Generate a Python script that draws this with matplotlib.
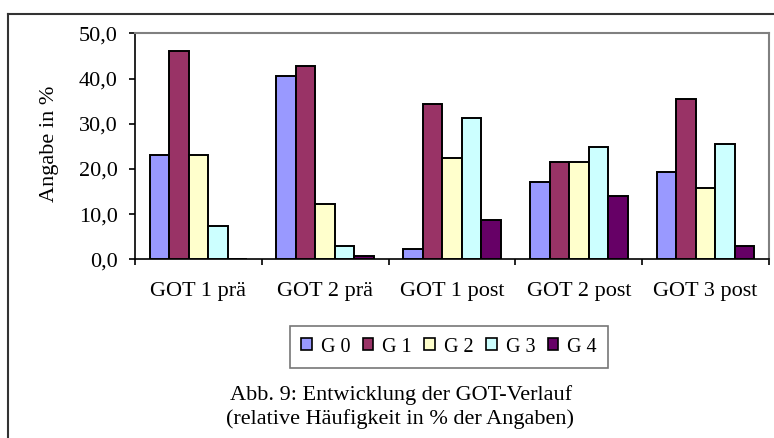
import matplotlib
matplotlib.use("Agg")
import matplotlib.pyplot as plt
import numpy as np
from matplotlib.lines import Line2D

categories = ["GOT 1 prä", "GOT 2 prä", "GOT 1 post", "GOT 2 post", "GOT 3 post"]
series_names = ["G 0", "G 1", "G 2", "G 3", "G 4"]
g0 = [23.0, 40.6, 2.2, 17.2, 19.4]
g1 = [46.0, 42.8, 34.4, 21.5, 35.4]
g2 = [23.0, 12.3, 22.5, 21.5, 15.8]
g3 = [7.4, 3.0, 31.3, 24.8, 25.6]
g4 = [0.0, 0.8, 8.8, 14.1, 3.0]
yticks = [0, 10, 20, 30, 40, 50]
ytick_labels = ["0,0", "10,0", "20,0", "30,0", "40,0", "50,0"]
colors = ["#9999FF", "#993366", "#FFFFCC", "#CCFFFF", "#660066"]

plt.rcParams['font.family'] = ['Liberation Serif', 'DejaVu Serif']

W, H = 774, 438
fig = plt.figure(figsize=(W / 100, H / 100), dpi=100)

def fx(px):
    return px / W

def fy(py):
    return 1 - py / H

# outer frame (extends past right/bottom edge)
fig.add_artist(Line2D([fx(8), fx(780)], [fy(14), fy(14)], color="#333333", lw=1.5, transform=fig.transFigure))
fig.add_artist(Line2D([fx(8), fx(8)], [fy(14), fy(445)], color="#333333", lw=1.5, transform=fig.transFigure))

left, right, top, bottom = 135, 769, 33.3, 259.3
ax = fig.add_axes([fx(left), fy(bottom), fx(right - left), (bottom - top) / H])

series = [g0, g1, g2, g3, g4]
n = len(series)
bw = 1.0 / 6.5
x = np.arange(len(categories))
for i, (vals, c, name) in enumerate(zip(series, colors, series_names)):
    offs = (i - (n - 1) / 2) * bw
    ax.bar(x + offs, vals, width=bw, color=c, edgecolor="black", linewidth=1.4, label=name, zorder=3)

ax.set_xlim(-0.5, len(categories) - 0.5)
ax.set_ylim(0, 50)
ax.set_yticks(yticks)
ax.set_yticklabels(ytick_labels, fontsize=16)
ax.set_xticks(x)
ax.set_xticklabels(categories, fontsize=16)
ax.set_xticks(np.arange(len(categories) + 1) - 0.5, minor=True)
ax.tick_params(axis="x", which="major", length=0, pad=16.5)
ax.tick_params(axis="x", which="minor", length=4.5, width=1.2, direction="out")
ax.tick_params(axis="y", which="major", length=4.5, width=1.2, direction="out", pad=8)

for s in ["top", "right"]:
    ax.spines[s].set_color("#808080")
    ax.spines[s].set_linewidth(1.5)
for s in ["left", "bottom"]:
    ax.spines[s].set_color("black")
    ax.spines[s].set_linewidth(1.2)

ax.set_ylabel("Angabe in %", fontsize=16)
ax.yaxis.set_label_coords((59 - left) / (right - left), 0.51)

leg = fig.legend(loc="center", bbox_to_anchor=(fx(449), fy(347)), ncol=5, fontsize=14.5,
                 handlelength=0.52, handleheight=0.52, handletextpad=0.45, columnspacing=0.62,
                 frameon=True, fancybox=False, borderpad=0.55)
leg.get_frame().set_edgecolor("#555555")
leg.get_frame().set_linewidth(1.2)
for h in leg.legend_handles:
    h.set_linewidth(1.2)

fig.text(fx(401), fy(395), "Abb. 9: Entwicklung der GOT-Verlauf", ha="center", va="center", fontsize=16)
fig.text(fx(400), fy(419), "(relative Häufigkeit in % der Angaben)", ha="center", va="center", fontsize=16)

fig.savefig("out.png", dpi=100)
